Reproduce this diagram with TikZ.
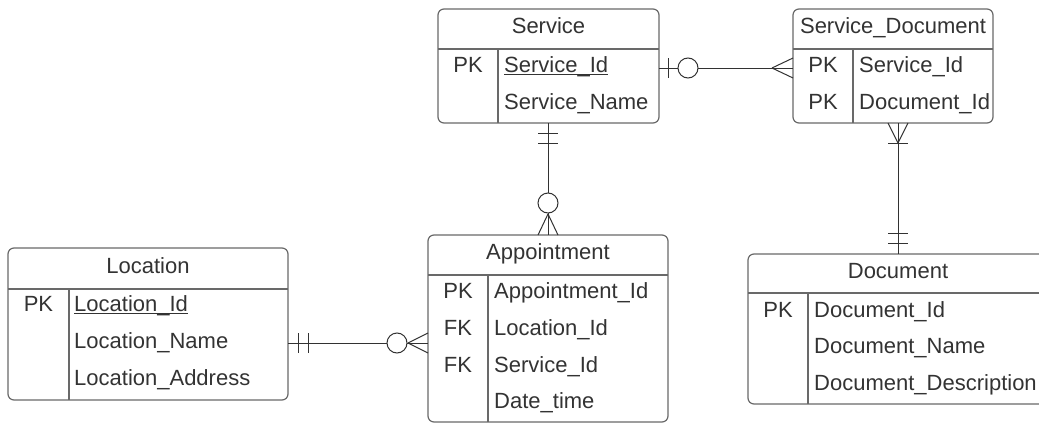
\documentclass[tikz,border=0pt]{standalone}
\usepackage{fontspec}
\setmainfont{Liberation Sans}
\usetikzlibrary{calc}
\definecolor{ink}{RGB}{51,51,51}
\definecolor{frame}{RGB}{105,105,105}
\definecolor{wire}{RGB}{50,50,50}
\tikzset{
  tbl/.style={draw=frame, line width=1.2pt, rounded corners=6pt, anchor=north west,
              inner sep=0pt, outer sep=0pt},
  sepline/.style={draw=frame, line width=1.2pt},
  txt/.style={text=ink, inner sep=0pt, font=\fontsize{22}{26}\selectfont},
  ttl/.style={txt, anchor=base},
  fld/.style={txt, anchor=base west},
  keycol/.style={txt, anchor=base},
  rel/.style={draw=wire, line width=1pt},
  ring/.style={draw=wire, line width=1pt, fill=white},
  ul/.style={draw=ink, line width=1.3pt},
}
\begin{document}
\begin{tikzpicture}[x=1pt, y=-1pt]
\useasboundingbox (0,0) rectangle (1039,423);
\fill[white] (0,0) rectangle (1039,423);

% ---------- Service ----------
\node[tbl, minimum width=221, minimum height=114] (svc) at (438,9) {};
\draw[sepline] (438,49) -- (659,49);
\draw[sepline] (498,49) -- (498,123);
\node[ttl] (svcT) at (548.5,33) {Service};
\node[keycol] (svcK1) at (468,72) {PK};
\node[fld] (svcF1) at (504,72) {Service\_Id};
\node[fld] (svcF2) at (504,109) {Service\_Name};
\draw[ul] ($(svcF1.base west)+(0,2.4)$) -- ($(svcF1.base east)+(0,2.4)$);

% ---------- Service_Document ----------
\node[tbl, minimum width=200, minimum height=114] (sd) at (793,9) {};
\draw[sepline] (793,49) -- (993,49);
\draw[sepline] (853,49) -- (853,123);
\node[ttl] (sdT) at (893,33) {Service\_Document};
\node[keycol] (sdK1) at (823,72) {PK};
\node[keycol] (sdK2) at (823,109) {PK};
\node[fld] (sdF1) at (859,72) {Service\_Id};
\node[fld] (sdF2) at (859,109) {Document\_Id};

% ---------- Location ----------
\node[tbl, minimum width=280, minimum height=152] (loc) at (8,248) {};
\draw[sepline] (8,289) -- (288,289);
\draw[sepline] (69,289) -- (69,400);
\node[ttl] (locT) at (148,273) {Location};
\node[keycol] (locK1) at (38.5,311) {PK};
\node[fld] (locF1) at (74,311) {Location\_Id};
\node[fld] (locF2) at (74,348) {Location\_Name};
\node[fld] (locF3) at (74,385) {Location\_Address};
\draw[ul] ($(locF1.base west)+(0,2.4)$) -- ($(locF1.base east)+(0,2.4)$);

% ---------- Appointment ----------
\node[tbl, minimum width=240, minimum height=187] (apt) at (428,235) {};
\draw[sepline] (428,275) -- (668,275);
\draw[sepline] (488,275) -- (488,422);
\node[ttl] (aptT) at (548,259) {Appointment};
\node[keycol] (aptK1) at (458,298) {PK};
\node[keycol] (aptK2) at (458,335) {FK};
\node[keycol] (aptK3) at (458,372) {FK};
\node[fld] (aptF1) at (494,298) {Appointment\_Id};
\node[fld] (aptF2) at (494,335) {Location\_Id};
\node[fld] (aptF3) at (494,372) {Service\_Id};
\node[fld] (aptF4) at (494,408) {Date\_time};

% ---------- Document ----------
\node[tbl, minimum width=300, minimum height=150] (doc) at (748,254) {};
\draw[sepline] (748,293) -- (1048,293);
\draw[sepline] (808,293) -- (808,404);
\node[ttl] (docT) at (898,278) {Document};
\node[keycol] (docK1) at (778,317) {PK};
\node[fld] (docF1) at (814,317) {Document\_Id};
\node[fld] (docF2) at (814,353) {Document\_Name};
\node[fld] (docF3) at (814,390) {Document\_Description};

% ---------- Service (one, optional) -- Service_Document (many) ----------
\coordinate (yS) at (0,68);
\coordinate (a1) at (svc.east |- yS);
\coordinate (b1) at (sd.west |- yS);
\draw[rel] (a1) -- (b1);
\draw[rel] ($(a1)+(9,-10)$) -- ($(a1)+(9,10)$);
\draw[ring] ($(a1)+(29,0)$) circle[radius=10];
\draw[rel] ($(b1)+(-21,0)$) -- ($(b1)+(0,-10)$);
\draw[rel] ($(b1)+(-21,0)$) -- ($(b1)+(0,10)$);

% ---------- Service (one, mandatory) -- Appointment (many, optional) ----------
\coordinate (a2) at (apt.north |- svc.south);
\coordinate (b2) at (apt.north);
\draw[rel] (a2) -- (b2);
\draw[rel] ($(a2)+(-10,10)$) -- ($(a2)+(10,10)$);
\draw[rel] ($(a2)+(-10,20)$) -- ($(a2)+(10,20)$);
\draw[rel] ($(b2)+(0,-21)$) -- ($(b2)+(-10,0)$);
\draw[rel] ($(b2)+(0,-21)$) -- ($(b2)+(10,0)$);
\draw[ring] ($(b2)+(0,-32)$) circle[radius=10];

% ---------- Location (one, mandatory) -- Appointment (many, optional) ----------
\coordinate (yL) at (0,343);
\coordinate (a3) at (loc.east |- yL);
\coordinate (b3) at (apt.west |- yL);
\draw[rel] (a3) -- (b3);
\draw[rel] ($(a3)+(10,-10)$) -- ($(a3)+(10,10)$);
\draw[rel] ($(a3)+(20,-10)$) -- ($(a3)+(20,10)$);
\draw[rel] ($(b3)+(-20,0)$) -- ($(b3)+(0,-10)$);
\draw[rel] ($(b3)+(-20,0)$) -- ($(b3)+(0,10)$);
\draw[ring] ($(b3)+(-31,0)$) circle[radius=10];

% ---------- Service_Document (many, mandatory) -- Document (one, mandatory) ----------
\coordinate (a4) at (doc.north |- sd.south);
\coordinate (b4) at (doc.north);
\draw[rel] (a4) -- (b4);
\draw[rel] ($(a4)+(-10,0)$) -- ($(a4)+(0,20)$) -- ($(a4)+(10,0)$);
\draw[rel] ($(a4)+(-10,20)$) -- ($(a4)+(10,20)$);
\draw[rel] ($(b4)+(-10,-21)$) -- ($(b4)+(10,-21)$);
\draw[rel] ($(b4)+(-10,-11)$) -- ($(b4)+(10,-11)$);
\end{tikzpicture}
\end{document}
